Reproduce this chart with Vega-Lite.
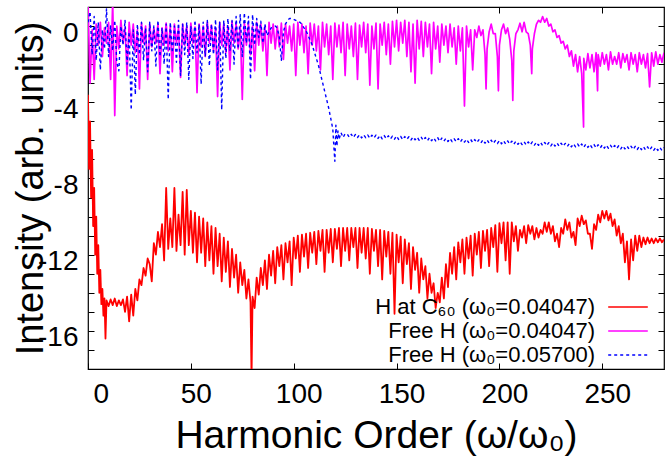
{
  "$schema": "https://vega.github.io/schema/vega-lite/v6.json",
  "width": 576,
  "height": 362,
  "autosize": {"type": "none"},
  "padding": {"left": 88, "top": 7, "right": 4, "bottom": 97},
  "background": "white",
  "config": {
    "font": "Liberation Sans",
    "view": {"stroke": "black", "strokeWidth": 1.2},
    "axis": {
      "grid": false,
      "domain": false,
      "tickColor": "black",
      "tickSize": -6,
      "tickWidth": 1,
      "labelColor": "black",
      "titleColor": "black",
      "labelFont": "Liberation Sans",
      "titleFont": "Liberation Sans",
      "titleFontWeight": "normal"
    },
    "legend": {
      "orient": "none",
      "legendX": 528,
      "legendY": 288,
      "padding": 0,
      "labelFont": "Liberation Sans",
      "labelFontSize": 22,
      "labelColor": "black",
      "labelAlign": "right",
      "labelOffset": -45,
      "labelLimit": 400,
      "symbolType": "M-1.8,0H1.8",
      "symbolSize": 484,
      "symbolStrokeWidth": 1.5,
      "rowPadding": 1
    }
  },
  "datasets": {
    "h_c60": [
      {"x":0,"y":-3.6},{"x":0.5,"y":-7.5},{"x":1,"y":-5.0},{"x":1.5,"y":-9.0},{"x":2,"y":-6.5},{"x":2.5,"y":-10.5},{"x":3,"y":-8.5},{"x":3.5,"y":-12.0},{"x":4,"y":-10.0},{"x":4.5,"y":-13.0},
      {"x":5,"y":-11.5},{"x":5.5,"y":-14.0},{"x":6,"y":-12.8},{"x":6.5,"y":-14.6},{"x":7,"y":-13.8},{"x":7.5,"y":-15.2},{"x":8,"y":-14.3},{"x":8.5,"y":-16.4},{"x":9,"y":-14.4},{"x":10,"y":-14.7},
      {"x":11,"y":-14.35},{"x":12,"y":-14.65},{"x":13,"y":-14.3},{"x":14,"y":-14.7},{"x":15,"y":-14.4},{"x":16,"y":-14.65},{"x":17,"y":-14.35},{"x":18,"y":-15.0},{"x":19,"y":-14.2},{"x":20,"y":-15.5},
      {"x":21,"y":-14.1},{"x":22,"y":-15.2},{"x":23,"y":-13.8},{"x":24,"y":-14.4},{"x":25,"y":-13.3},{"x":26,"y":-13.6},{"x":27,"y":-12.7},{"x":28,"y":-13.1},{"x":29,"y":-12.2},{"x":30,"y":-12.5},
      {"x":31,"y":-13.4},{"x":32,"y":-11.4},{"x":33,"y":-12.0},{"x":34,"y":-10.8},{"x":35,"y":-11.6},{"x":36,"y":-10.4},{"x":37,"y":-12.3},{"x":38,"y":-8.5},{"x":39,"y":-11.7},{"x":40,"y":-10.1},
      {"x":41,"y":-11.6},{"x":42,"y":-8.5},{"x":43,"y":-11.8},{"x":44,"y":-9.9},{"x":45,"y":-11.5},{"x":46,"y":-8.7},{"x":47,"y":-12.0},{"x":48,"y":-8.6},{"x":49,"y":-11.5},{"x":50,"y":-9.7},
      {"x":51,"y":-11.9},{"x":52,"y":-9.8},{"x":53,"y":-12.4},{"x":54,"y":-10.0},{"x":55,"y":-11.9},{"x":56,"y":-10.1},{"x":57,"y":-12.6},{"x":58,"y":-10.3},{"x":59,"y":-12.3},{"x":60,"y":-10.5},
      {"x":61,"y":-13.0},{"x":62,"y":-10.6},{"x":63,"y":-12.6},{"x":64,"y":-10.9},{"x":65,"y":-13.4},{"x":66,"y":-11.1},{"x":67,"y":-12.9},{"x":68,"y":-11.3},{"x":69,"y":-13.7},{"x":70,"y":-11.7},
      {"x":71,"y":-13.2},{"x":72,"y":-12.0},{"x":73,"y":-14.0},{"x":74,"y":-12.4},{"x":75,"y":-13.6},{"x":76,"y":-12.8},{"x":77,"y":-14.3},{"x":78,"y":-13.3},{"x":79,"y":-14.5},{"x":79.5,"y":-18.5},
      {"x":80,"y":-14.2},{"x":81,"y":-14.8},{"x":82,"y":-13.2},{"x":83,"y":-14.1},{"x":84,"y":-12.7},{"x":85,"y":-13.6},{"x":86,"y":-12.3},{"x":87,"y":-13.8},{"x":88,"y":-12.0},{"x":89,"y":-13.1},
      {"x":90,"y":-11.8},{"x":91,"y":-13.5},{"x":92,"y":-11.6},{"x":93,"y":-12.6},{"x":94,"y":-11.5},{"x":95,"y":-13.3},{"x":96,"y":-11.4},{"x":97,"y":-12.4},{"x":98,"y":-11.3},{"x":99,"y":-13.6},
      {"x":100,"y":-11.1},{"x":101,"y":-12.2},{"x":102,"y":-11.0},{"x":103,"y":-12.9},{"x":104,"y":-10.95},{"x":105,"y":-12.1},{"x":106,"y":-10.9},{"x":107,"y":-12.7},{"x":108,"y":-10.85},{"x":109,"y":-11.9},
      {"x":110,"y":-10.8},{"x":111,"y":-12.5},{"x":112,"y":-10.75},{"x":113,"y":-11.8},{"x":114,"y":-10.7},{"x":115,"y":-12.9},{"x":116,"y":-10.7},{"x":117,"y":-11.9},{"x":118,"y":-10.65},{"x":119,"y":-12.4},
      {"x":120,"y":-10.65},{"x":121,"y":-11.7},{"x":122,"y":-10.6},{"x":123,"y":-12.6},{"x":124,"y":-10.6},{"x":125,"y":-11.8},{"x":126,"y":-10.6},{"x":127,"y":-12.3},{"x":128,"y":-10.6},{"x":129,"y":-11.6},
      {"x":130,"y":-10.6},{"x":131,"y":-12.7},{"x":132,"y":-10.6},{"x":133,"y":-11.9},{"x":134,"y":-10.6},{"x":135,"y":-12.2},{"x":136,"y":-10.6},{"x":137,"y":-13.0},{"x":138,"y":-10.65},{"x":139,"y":-11.8},
      {"x":140,"y":-10.7},{"x":141,"y":-12.6},{"x":142,"y":-10.7},{"x":143,"y":-13.3},{"x":144,"y":-10.75},{"x":145,"y":-12.1},{"x":146,"y":-10.8},{"x":147,"y":-13.0},{"x":148,"y":-10.85},{"x":149,"y":-15.1},
      {"x":150,"y":-10.95},{"x":151,"y":-12.4},{"x":152,"y":-11.05},{"x":153,"y":-13.5},{"x":154,"y":-11.2},{"x":155,"y":-12.5},{"x":156,"y":-11.4},{"x":157,"y":-13.8},{"x":158,"y":-11.6},{"x":159,"y":-12.8},
      {"x":160,"y":-11.9},{"x":161,"y":-14.0},{"x":162,"y":-12.2},{"x":163,"y":-13.3},{"x":164,"y":-12.6},{"x":165,"y":-14.3},{"x":166,"y":-13.0},{"x":167,"y":-14.0},{"x":168,"y":-13.5},{"x":169,"y":-14.8},
      {"x":170,"y":-14.0},{"x":171,"y":-14.5},{"x":172,"y":-13.2},{"x":173,"y":-14.3},{"x":174,"y":-12.5},{"x":175,"y":-13.7},{"x":176,"y":-11.9},{"x":177,"y":-13.0},{"x":178,"y":-11.6},{"x":179,"y":-13.3},
      {"x":180,"y":-11.35},{"x":181,"y":-12.4},{"x":182,"y":-11.2},{"x":183,"y":-13.0},{"x":184,"y":-11.1},{"x":185,"y":-12.2},{"x":186,"y":-11.0},{"x":187,"y":-13.1},{"x":188,"y":-10.9},{"x":189,"y":-12.0},
      {"x":190,"y":-10.8},{"x":191,"y":-12.7},{"x":192,"y":-10.75},{"x":193,"y":-11.8},{"x":194,"y":-10.7},{"x":195,"y":-12.6},{"x":196,"y":-10.6},{"x":197,"y":-11.6},{"x":198,"y":-10.45},{"x":199,"y":-12.9},
      {"x":200,"y":-10.35},{"x":201,"y":-11.4},{"x":202,"y":-10.3},{"x":203,"y":-12.3},{"x":204,"y":-10.3},{"x":205,"y":-13.0},{"x":206,"y":-10.3},{"x":207,"y":-11.3},{"x":208,"y":-10.5},{"x":209,"y":-11.8},
      {"x":210,"y":-10.7},{"x":211,"y":-11.1},{"x":212,"y":-10.5},{"x":213,"y":-11.4},{"x":214,"y":-10.45},{"x":215,"y":-10.9},{"x":216,"y":-10.5},{"x":217,"y":-11.2},{"x":218,"y":-10.6},{"x":219,"y":-11.1},
      {"x":220,"y":-10.7},{"x":221,"y":-10.9},{"x":222,"y":-10.3},{"x":223,"y":-10.8},{"x":224,"y":-10.3},{"x":225,"y":-10.9},{"x":226,"y":-10.5},{"x":227,"y":-11.3},{"x":228,"y":-10.9},{"x":229,"y":-11.6},
      {"x":230,"y":-10.6},{"x":231,"y":-10.9},{"x":232,"y":-10.15},{"x":233,"y":-10.7},{"x":234,"y":-10.3},{"x":235,"y":-11.1},{"x":236,"y":-10.8},{"x":237,"y":-11.5},{"x":238,"y":-10.1},{"x":239,"y":-10.5},
      {"x":240,"y":-9.95},{"x":241,"y":-10.4},{"x":242,"y":-10.2},{"x":243,"y":-10.9},{"x":244,"y":-10.9},{"x":245,"y":-11.7},{"x":246,"y":-10.4},{"x":247,"y":-10.7},{"x":248,"y":-9.9},{"x":249,"y":-10.3},
      {"x":250,"y":-9.7},{"x":251,"y":-10.1},{"x":252,"y":-9.7},{"x":253,"y":-10.2},{"x":254,"y":-9.85},{"x":255,"y":-10.5},{"x":256,"y":-10.15},{"x":257,"y":-11.0},{"x":258,"y":-10.5},{"x":259,"y":-11.4},
      {"x":260,"y":-10.9},{"x":261,"y":-12.4},{"x":262,"y":-11.3},{"x":263,"y":-13.3},{"x":264,"y":-11.2},{"x":265,"y":-12.3},{"x":266,"y":-11.0},{"x":267,"y":-11.8},{"x":268,"y":-11.0},{"x":269,"y":-11.6},
      {"x":270,"y":-11.1},{"x":271,"y":-11.45},{"x":272,"y":-11.1},{"x":273,"y":-11.4},{"x":274,"y":-11.15},{"x":275,"y":-11.4},{"x":276,"y":-11.15},{"x":277,"y":-11.35},{"x":278,"y":-11.15},{"x":279,"y":-11.35},
      {"x":280,"y":-11.2}
    ],
    "free_a": [
      {"x":0,"y":1.3},{"x":1,"y":-3.0},{"x":2,"y":-0.2},{"x":3,"y":-2.8},{"x":4,"y":0.1},{"x":5,"y":-1.0},{"x":6,"y":0.2},{"x":7,"y":-1.6},{"x":8,"y":-0.1},{"x":9,"y":-0.9},
      {"x":10,"y":0.2},{"x":11,"y":-2.8},{"x":12,"y":1.3},{"x":13,"y":-4.7},{"x":14,"y":0.0},{"x":15,"y":-1.2},{"x":16,"y":0.3},{"x":17,"y":-0.9},{"x":18,"y":-0.1},{"x":19,"y":-2.6},
      {"x":20,"y":0.2},{"x":21,"y":-1.0},{"x":22,"y":0.1},{"x":23,"y":-1.4},{"x":24,"y":-0.2},{"x":25,"y":-3.3},{"x":26,"y":0.15},{"x":27,"y":-0.9},{"x":28,"y":0.0},{"x":29,"y":-2.8},
      {"x":30,"y":0.1},{"x":31,"y":-1.1},{"x":32,"y":-0.1},{"x":33,"y":-0.9},{"x":34,"y":0.1},{"x":35,"y":-2.5},{"x":36,"y":-0.1},{"x":37,"y":-1.0},{"x":38,"y":0.15},{"x":39,"y":-1.3},
      {"x":40,"y":0.0},{"x":41,"y":-2.4},{"x":42,"y":0.1},{"x":43,"y":-0.9},{"x":44,"y":-0.1},{"x":45,"y":-2.7},{"x":46,"y":0.1},{"x":47,"y":-1.0},{"x":48,"y":0.0},{"x":49,"y":-1.5},
      {"x":50,"y":0.15},{"x":51,"y":-0.9},{"x":52,"y":-0.05},{"x":53,"y":-3.5},{"x":54,"y":0.1},{"x":55,"y":-1.1},{"x":56,"y":0.0},{"x":57,"y":-1.6},{"x":58,"y":0.2},{"x":59,"y":-0.9},
      {"x":60,"y":0.05},{"x":61,"y":-1.3},{"x":62,"y":-0.1},{"x":63,"y":-3.7},{"x":64,"y":0.2},{"x":65,"y":-1.0},{"x":66,"y":0.1},{"x":67,"y":-1.4},{"x":68,"y":0.0},{"x":69,"y":-2.3},
      {"x":70,"y":0.25},{"x":71,"y":-0.9},{"x":72,"y":0.1},{"x":73,"y":-1.2},{"x":74,"y":0.0},{"x":75,"y":-3.85},{"x":76,"y":0.2},{"x":77,"y":-1.0},{"x":78,"y":0.1},{"x":79,"y":-1.5},
      {"x":80,"y":0.0},{"x":81,"y":-2.35},{"x":82,"y":0.2},{"x":83,"y":-1.0},{"x":84,"y":0.1},{"x":85,"y":-1.3},{"x":86,"y":0.0},{"x":87,"y":-2.6},{"x":88,"y":0.2},{"x":89,"y":-0.9},
      {"x":90,"y":0.1},{"x":91,"y":-1.2},{"x":92,"y":0.0},{"x":93,"y":-1.1},{"x":94,"y":0.15},{"x":95,"y":-1.75},{"x":96,"y":0.1},{"x":97,"y":-0.9},{"x":98,"y":0.0},{"x":99,"y":-1.3},
      {"x":100,"y":0.1},{"x":101,"y":-2.6},{"x":102,"y":0.2},{"x":103,"y":-1.0},{"x":104,"y":0.1},{"x":105,"y":-1.4},{"x":106,"y":0.0},{"x":107,"y":-2.5},{"x":108,"y":0.15},{"x":109,"y":-1.0},
      {"x":110,"y":0.1},{"x":111,"y":-1.3},{"x":112,"y":0.0},{"x":113,"y":-2.3},{"x":114,"y":0.2},{"x":115,"y":-1.1},{"x":116,"y":0.1},{"x":117,"y":-1.5},{"x":118,"y":0.0},{"x":119,"y":-2.8},
      {"x":120,"y":0.15},{"x":121,"y":-1.1},{"x":122,"y":0.05},{"x":123,"y":-1.4},{"x":124,"y":0.2},{"x":125,"y":-2.6},{"x":126,"y":0.1},{"x":127,"y":-1.2},{"x":128,"y":0.0},{"x":129,"y":-1.6},
      {"x":130,"y":0.15},{"x":131,"y":-2.8},{"x":132,"y":0.05},{"x":133,"y":-1.1},{"x":134,"y":0.2},{"x":135,"y":-1.4},{"x":136,"y":0.1},{"x":137,"y":-3.1},{"x":138,"y":0.0},{"x":139,"y":-1.2},
      {"x":140,"y":0.15},{"x":141,"y":-3.3},{"x":142,"y":0.1},{"x":143,"y":-1.0},{"x":144,"y":0.2},{"x":145,"y":-1.5},{"x":146,"y":0.1},{"x":147,"y":-2.0},{"x":148,"y":0.25},{"x":149,"y":-1.1},
      {"x":150,"y":0.3},{"x":151,"y":-1.3},{"x":152,"y":0.2},{"x":153,"y":-0.9},{"x":154,"y":0.3},{"x":155,"y":-1.6},{"x":156,"y":0.2},{"x":157,"y":-2.4},{"x":158,"y":0.1},{"x":159,"y":-3.0},
      {"x":160,"y":0.3},{"x":161,"y":-1.2},{"x":162,"y":0.25},{"x":163,"y":-1.6},{"x":164,"y":0.2},{"x":165,"y":-1.1},{"x":166,"y":0.1},{"x":167,"y":-2.5},{"x":168,"y":0.2},{"x":169,"y":-1.2},
      {"x":170,"y":0.0},{"x":171,"y":-1.9},{"x":172,"y":0.1},{"x":173,"y":-1.0},{"x":174,"y":0.0},{"x":175,"y":-1.4},{"x":176,"y":0.1},{"x":177,"y":-1.1},{"x":178,"y":-0.1},{"x":179,"y":-2.0},
      {"x":180,"y":0.0},{"x":181,"y":-1.3},{"x":182,"y":-0.1},{"x":183,"y":-4.2},{"x":184,"y":0.0},{"x":185,"y":-1.1},{"x":186,"y":-0.2},{"x":187,"y":-2.3},{"x":188,"y":-0.2},{"x":189,"y":-0.6},
      {"x":190,"y":0.0},{"x":191,"y":-0.5},{"x":192,"y":-0.2},{"x":193,"y":-1.5},{"x":193.5,"y":-3.3},{"x":194,"y":-1.2},{"x":195,"y":-0.3},{"x":196,"y":0.1},{"x":197,"y":-0.4},{"x":198,"y":-0.4},
      {"x":199,"y":-1.6},{"x":199.5,"y":-3.4},{"x":200,"y":-1.0},{"x":201,"y":-0.2},{"x":202,"y":0.1},{"x":203,"y":-0.4},{"x":204,"y":-0.1},{"x":205,"y":-0.7},{"x":206,"y":-1.8},{"x":206.5,"y":-3.9},
      {"x":207,"y":-1.3},{"x":208,"y":-0.4},{"x":209,"y":-0.2},{"x":210,"y":0.15},{"x":211,"y":-0.3},{"x":212,"y":0.2},{"x":213,"y":-0.3},{"x":214,"y":-0.4},{"x":215,"y":-1.0},{"x":215.7,"y":-2.5},
      {"x":216,"y":-1.2},{"x":217,"y":-0.4},{"x":218,"y":0.1},{"x":219,"y":0.3},{"x":220,"y":0.2},{"x":221,"y":0.5},{"x":222,"y":0.2},{"x":223,"y":0.4},{"x":224,"y":0.0},{"x":225,"y":0.1},
      {"x":226,"y":-0.3},{"x":227,"y":-0.2},{"x":228,"y":-0.6},{"x":229,"y":-0.5},{"x":230,"y":-0.9},{"x":231,"y":-0.8},{"x":232,"y":-1.2},{"x":233,"y":-1.0},{"x":234,"y":-1.6},{"x":235,"y":-1.3},
      {"x":236,"y":-2.1},{"x":237,"y":-1.5},{"x":238,"y":-2.4},{"x":239,"y":-1.6},{"x":240,"y":-2.5},{"x":240.9,"y":-5.3},{"x":241,"y":-1.7},{"x":242,"y":-2.3},{"x":243,"y":-1.45},{"x":244,"y":-2.2},
      {"x":245,"y":-1.5},{"x":246,"y":-2.4},{"x":247,"y":-1.4},{"x":247.7,"y":-3.4},{"x":248,"y":-1.5},{"x":249,"y":-2.1},{"x":250,"y":-1.4},{"x":251,"y":-2.0},{"x":252,"y":-1.5},{"x":253,"y":-2.3},
      {"x":254,"y":-1.35},{"x":255,"y":-2.0},{"x":256,"y":-1.6},{"x":257,"y":-2.0},{"x":258,"y":-1.4},{"x":259,"y":-2.2},{"x":260,"y":-1.45},{"x":261,"y":-1.9},{"x":262,"y":-1.5},{"x":263,"y":-2.3},
      {"x":264,"y":-1.4},{"x":265,"y":-2.0},{"x":266,"y":-1.5},{"x":267,"y":-2.4},{"x":268,"y":-1.4},{"x":269,"y":-2.0},{"x":270,"y":-1.5},{"x":271,"y":-2.2},{"x":272,"y":-1.45},{"x":273,"y":-3.2},
      {"x":274,"y":-1.4},{"x":275,"y":-2.1},{"x":276,"y":-1.35},{"x":277,"y":-2.0},{"x":278,"y":-1.5},{"x":279,"y":-1.9},{"x":280,"y":-1.4}
    ],
    "free_b": [
      {"x":0,"y":0.2},{"x":1,"y":0.75},{"x":2,"y":-1.5},{"x":3,"y":0.5},{"x":4,"y":-1.8},{"x":5,"y":0.2},{"x":6,"y":-2.3},{"x":7,"y":-0.2},{"x":8,"y":-1.2},{"x":9,"y":0.9},
      {"x":10,"y":-1.6},{"x":11,"y":0.0},{"x":12,"y":-1.3},{"x":13,"y":0.3},{"x":14,"y":-1.9},{"x":15,"y":-2.35},{"x":16,"y":0.0},{"x":17,"y":-1.0},{"x":18,"y":0.3},{"x":19,"y":-2.0},
      {"x":20,"y":-0.3},{"x":21,"y":-4.4},{"x":22,"y":-0.2},{"x":23,"y":-3.6},{"x":24,"y":0.1},{"x":25,"y":-1.5},{"x":26,"y":0.2},{"x":27,"y":-1.8},{"x":28,"y":-0.1},{"x":29,"y":-2.4},
      {"x":30,"y":0.2},{"x":31,"y":-1.3},{"x":32,"y":0.0},{"x":33,"y":-2.1},{"x":34,"y":0.3},{"x":35,"y":-1.6},{"x":36,"y":-0.1},{"x":37,"y":-2.0},{"x":38,"y":0.1},{"x":39,"y":-3.85},
      {"x":40,"y":0.2},{"x":41,"y":-1.4},{"x":42,"y":0.0},{"x":43,"y":-1.9},{"x":44,"y":0.3},{"x":45,"y":-2.6},{"x":46,"y":0.1},{"x":47,"y":-1.5},{"x":48,"y":0.2},{"x":49,"y":-2.8},
      {"x":50,"y":0.0},{"x":51,"y":-1.7},{"x":52,"y":0.3},{"x":53,"y":-1.4},{"x":54,"y":0.1},{"x":55,"y":-3.05},{"x":56,"y":0.2},{"x":57,"y":-1.6},{"x":58,"y":0.3},{"x":59,"y":-2.1},
      {"x":60,"y":0.1},{"x":61,"y":-1.5},{"x":62,"y":0.35},{"x":63,"y":-2.3},{"x":64,"y":0.2},{"x":65,"y":-4.4},{"x":66,"y":0.3},{"x":67,"y":-1.7},{"x":68,"y":0.4},{"x":69,"y":-1.3},
      {"x":70,"y":0.3},{"x":71,"y":-2.0},{"x":72,"y":0.5},{"x":73,"y":-1.2},{"x":74,"y":0.6},{"x":75,"y":-1.6},{"x":76,"y":0.7},{"x":77,"y":-0.9},{"x":78,"y":0.5},{"x":79,"y":-2.8},
      {"x":80,"y":0.6},{"x":81,"y":-1.0},{"x":82,"y":0.4},{"x":83,"y":-0.6},{"x":84,"y":0.25},{"x":85,"y":-0.9},{"x":86,"y":0.1},{"x":87,"y":-0.5},{"x":88,"y":-0.3},{"x":89,"y":-0.1},
      {"x":90,"y":-0.05},{"x":91,"y":0.0},{"x":92,"y":-0.1},{"x":93,"y":-0.6},{"x":94,"y":-1.8},{"x":95,"y":-0.3},{"x":96,"y":0.1},{"x":97,"y":0.3},{"x":98,"y":0.4},{"x":99,"y":0.4},
      {"x":100,"y":0.35},{"x":101,"y":0.3},{"x":102,"y":0.25},{"x":103,"y":0.2},{"x":104,"y":0.1},{"x":105,"y":-0.1},{"x":106,"y":-0.25},{"x":107,"y":-0.5},{"x":108,"y":-0.75},{"x":109,"y":-1.0},
      {"x":110,"y":-1.35},{"x":111,"y":-1.7},{"x":112,"y":-2.05},{"x":113,"y":-2.5},{"x":114,"y":-2.95},{"x":115,"y":-3.4},{"x":116,"y":-3.85},{"x":117,"y":-4.3},{"x":118,"y":-4.85},{"x":119,"y":-5.4},
      {"x":119.5,"y":-6.3},{"x":120,"y":-7.1},{"x":120.5,"y":-5.2},{"x":121,"y":-6.3},{"x":121.5,"y":-5.5},{"x":122,"y":-5.95},{"x":123,"y":-5.6},{"x":124,"y":-5.85},{"x":125,"y":-5.65},
      {"x":126,"y":-5.67},{"x":127,"y":-5.84},{"x":128,"y":-5.68},{"x":129,"y":-5.85},{"x":130,"y":-5.69},{"x":131,"y":-5.85},{"x":132,"y":-5.70},{"x":133,"y":-5.87},{"x":134,"y":-5.71},{"x":135,"y":-5.86},
      {"x":136,"y":-5.72},{"x":137,"y":-5.89},{"x":138,"y":-5.73},{"x":139,"y":-5.88},{"x":140,"y":-5.72},{"x":141,"y":-5.90},{"x":142,"y":-5.74},{"x":143,"y":-5.92},{"x":144,"y":-5.75},{"x":145,"y":-5.91},
      {"x":146,"y":-5.76},{"x":147,"y":-5.93},{"x":148,"y":-5.78},{"x":149,"y":-5.94},{"x":150,"y":-5.77},{"x":151,"y":-5.95},{"x":152,"y":-5.79},{"x":153,"y":-5.96},{"x":154,"y":-5.80},{"x":155,"y":-5.95},
      {"x":156,"y":-5.81},{"x":157,"y":-5.98},{"x":158,"y":-5.82},{"x":159,"y":-5.97},{"x":160,"y":-5.83},{"x":161,"y":-6.00},{"x":162,"y":-5.84},{"x":163,"y":-6.00},{"x":164,"y":-5.85},{"x":165,"y":-6.02},
      {"x":166,"y":-5.85},{"x":167,"y":-6.02},{"x":168,"y":-5.87},{"x":169,"y":-6.03},{"x":170,"y":-5.86},{"x":171,"y":-6.05},{"x":172,"y":-5.88},{"x":173,"y":-6.04},{"x":174,"y":-5.89},{"x":175,"y":-6.06},
      {"x":176,"y":-5.90},{"x":177,"y":-6.07},{"x":178,"y":-5.92},{"x":179,"y":-6.07},{"x":180,"y":-5.91},{"x":181,"y":-6.09},{"x":182,"y":-5.93},{"x":183,"y":-6.09},{"x":184,"y":-5.94},{"x":185,"y":-6.11},
      {"x":186,"y":-5.95},{"x":187,"y":-6.11},{"x":188,"y":-5.96},{"x":189,"y":-6.12},{"x":190,"y":-5.97},{"x":191,"y":-6.13},{"x":192,"y":-5.97},{"x":193,"y":-6.15},{"x":194,"y":-5.98},{"x":195,"y":-6.15},
      {"x":196,"y":-5.99},{"x":197,"y":-6.16},{"x":198,"y":-6.01},{"x":199,"y":-6.17},{"x":200,"y":-6.01},{"x":201,"y":-6.18},{"x":202,"y":-6.02},{"x":203,"y":-6.19},{"x":204,"y":-6.03},{"x":205,"y":-6.19},
      {"x":206,"y":-6.04},{"x":207,"y":-6.21},{"x":208,"y":-6.05},{"x":209,"y":-6.21},{"x":210,"y":-6.06},{"x":211,"y":-6.22},{"x":212,"y":-6.07},{"x":213,"y":-6.24},{"x":214,"y":-6.08},{"x":215,"y":-6.24},
      {"x":216,"y":-6.08},{"x":217,"y":-6.25},{"x":218,"y":-6.10},{"x":219,"y":-6.26},{"x":220,"y":-6.10},{"x":221,"y":-6.27},{"x":222,"y":-6.11},{"x":223,"y":-6.28},{"x":224,"y":-6.12},{"x":225,"y":-6.29},
      {"x":226,"y":-6.13},{"x":227,"y":-6.30},{"x":228,"y":-6.14},{"x":229,"y":-6.31},{"x":230,"y":-6.15},{"x":231,"y":-6.31},{"x":232,"y":-6.16},{"x":233,"y":-6.32},{"x":234,"y":-6.17},{"x":235,"y":-6.34},
      {"x":236,"y":-6.18},{"x":237,"y":-6.34},{"x":238,"y":-6.19},{"x":239,"y":-6.35},{"x":240,"y":-6.19},{"x":241,"y":-6.37},{"x":242,"y":-6.20},{"x":243,"y":-6.37},{"x":244,"y":-6.21},{"x":245,"y":-6.38},
      {"x":246,"y":-6.22},{"x":247,"y":-6.39},{"x":248,"y":-6.23},{"x":249,"y":-6.40},{"x":250,"y":-6.24},{"x":251,"y":-6.41},{"x":252,"y":-6.25},{"x":253,"y":-6.42},{"x":254,"y":-6.26},{"x":255,"y":-6.42},
      {"x":256,"y":-6.27},{"x":257,"y":-6.43},{"x":258,"y":-6.28},{"x":259,"y":-6.45},{"x":260,"y":-6.29},{"x":261,"y":-6.45},{"x":262,"y":-6.30},{"x":263,"y":-6.46},{"x":264,"y":-6.31},{"x":265,"y":-6.48},
      {"x":266,"y":-6.31},{"x":267,"y":-6.48},{"x":268,"y":-6.32},{"x":269,"y":-6.49},{"x":270,"y":-6.33},{"x":271,"y":-6.50},{"x":272,"y":-6.34},{"x":273,"y":-6.51},{"x":274,"y":-6.35},{"x":275,"y":-6.52},
      {"x":276,"y":-6.36},{"x":277,"y":-6.53},{"x":278,"y":-6.37},{"x":279,"y":-6.53},{"x":280,"y":-6.38}
    ]
  },
  "layer": [
    {
      "data": {"name": "h_c60"},
      "mark": {"type": "line", "clip": true, "strokeWidth": 1.8, "strokeJoin": "round"},
      "encoding": {
        "x": {
          "field": "x", "type": "quantitative",
          "scale": {"domain": [0, 280], "nice": false, "zero": false},
          "axis": {
            "orient": "bottom",
            "values": [0, 50, 100, 150, 200, 250],
            "title": "Harmonic Order (ω/ω₀)",
            "labelFontSize": 28,
            "labelOffset": 5,
            "titleFontSize": 39,
            "labelPadding": 17,
            "titlePadding": 8
          }
        },
        "y": {
          "field": "y", "type": "quantitative",
          "scale": {"domain": [-18, 1], "nice": false, "zero": false},
          "axis": {
            "orient": "left",
            "values": [-18, -17, -16, -15, -14, -13, -12, -11, -10, -9, -8, -7, -6, -5, -4, -3, -2, -1, 0, 1],
            "labelExpr": "datum.value % 4 === 0 ? '' + datum.value : ''",
            "title": "Intensity (arb. units)",
            "labelFontSize": 28,
            "titleFontSize": 38,
            "labelPadding": 16,
            "labelOffset": 7,
            "titlePadding": -13
          }
        },
        "color": {
          "datum": "H at C₆₀ (ω₀=0.04047)", "type": "nominal",
          "scale": {
            "domain": ["H at C₆₀ (ω₀=0.04047)", "Free H (ω₀=0.04047)", "Free H (ω₀=0.05700)"],
            "range": ["#ff0000", "#ff00ff", "#0000ff"]
          },
          "legend": {"title": null}
        },
        "strokeDash": {
          "datum": "H at C₆₀ (ω₀=0.04047)", "type": "nominal",
          "scale": {
            "domain": ["H at C₆₀ (ω₀=0.04047)", "Free H (ω₀=0.04047)", "Free H (ω₀=0.05700)"],
            "range": [[1, 0], [1, 0], [3, 3]]
          },
          "legend": {"title": null}
        }
      }
    },
    {
      "data": {"name": "free_a"},
      "mark": {"type": "line", "clip": true, "strokeWidth": 1.7, "strokeJoin": "round"},
      "encoding": {
        "x": {
          "field": "x", "type": "quantitative",
          "axis": {"orient": "top", "values": [0, 50, 100, 150, 200, 250], "labels": false, "title": null}
        },
        "y": {
          "field": "y", "type": "quantitative",
          "axis": {"orient": "right", "values": [-18, -17, -16, -15, -14, -13, -12, -11, -10, -9, -8, -7, -6, -5, -4, -3, -2, -1, 0, 1], "labels": false, "title": null}
        },
        "color": {"datum": "Free H (ω₀=0.04047)", "type": "nominal"},
        "strokeDash": {"datum": "Free H (ω₀=0.04047)", "type": "nominal"}
      }
    },
    {
      "data": {"name": "free_b"},
      "mark": {"type": "line", "clip": true, "strokeWidth": 1.4, "strokeJoin": "round"},
      "encoding": {
        "x": {"field": "x", "type": "quantitative", "axis": null},
        "y": {"field": "y", "type": "quantitative", "axis": null},
        "color": {"datum": "Free H (ω₀=0.05700)", "type": "nominal"},
        "strokeDash": {"datum": "Free H (ω₀=0.05700)", "type": "nominal"}
      }
    }
  ],
  "resolve": {"axis": {"x": "independent", "y": "independent"}}
}
